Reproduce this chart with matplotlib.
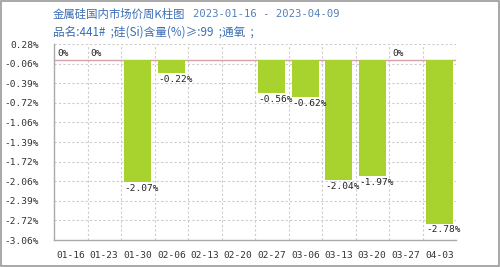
import numpy as np
import matplotlib
matplotlib.use("Agg")
import matplotlib.pyplot as plt
from matplotlib.patches import Rectangle

# data (None = no bar that week)
weeks = ["01-16", "01-23", "01-30", "02-06", "02-13", "02-20",
         "02-27", "03-06", "03-13", "03-20", "03-27", "04-03"]
changes = [0.0, 0.0, -2.07, -0.22, None, None,
           -0.56, -0.62, -2.04, -1.97, 0.0, -2.78]
ytick_labels = ["0.28%", "-0.06%", "-0.39%", "-0.72%", "-1.06%", "-1.39%",
                "-1.72%", "-2.06%", "-2.39%", "-2.72%", "-3.06%"]
y_top, y_bottom = 0.28, -3.06

title = "金属硅国内市场价周K柱图"
date_range = "2023-01-16 - 2023-04-09"
subtitle = "品名:441# ;硅(Si)含量(%)≥:99 ;通氧 ;"

cjk = ["Noto Sans CJK SC", "DejaVu Sans"]
mono = "DejaVu Sans Mono"
blue = "#3a6cb4"
bar_color = "#a8d22e"

fig = plt.figure(figsize=(5.0, 2.67), dpi=100)
ax = fig.add_axes([0.108, 0.101, 0.804, 0.734])

x = np.arange(len(weeks))
width = 0.8
for i, v in enumerate(changes):
    if v is None:
        continue
    left = x[i] - width / 2
    if v != 0:
        ax.bar(x[i], v, width=width, color=bar_color, zorder=3)
        ax.text(left, v - 0.03, "%.2f%%" % v, ha="left", va="top",
                fontsize=6.8, family=mono, color="#222222", zorder=4)
    else:
        ax.text(left, 0.04, "0%", ha="left", va="bottom",
                fontsize=6.8, family=mono, color="#222222", zorder=4)

ax.axhline(0, color="#d8a0a8", lw=1.0, zorder=2)

ax.set_xlim(-0.5, len(weeks) - 0.5)
ax.set_ylim(y_bottom, y_top)
ax.set_yticks(np.linspace(y_top, y_bottom, len(ytick_labels)))
ax.set_yticklabels(ytick_labels, family=mono, fontsize=6.8, color="#333333")
ax.set_xticks(x)
ax.set_xticklabels(weeks, family=mono, fontsize=6.8, color="#333333")
ax.tick_params(length=0, pad=8)
ax.tick_params(axis="y", pad=11)

# dashed grid on week boundaries and y ticks
for b in np.arange(-0.5, len(weeks), 1.0)[1:]:
    ax.axvline(b, color="#cccccc", lw=0.8, ls=(0, (2, 2)), zorder=1)
for t in np.linspace(y_top, y_bottom, len(ytick_labels))[:-1]:
    ax.axhline(t, color="#cccccc", lw=0.8, ls=(0, (2, 2)), zorder=1)

for s in ["top", "right"]:
    ax.spines[s].set_visible(False)
for s in ["left", "bottom"]:
    ax.spines[s].set_color("#aaaaaa")
    ax.spines[s].set_linewidth(1.0)

fig.text(0.106, 0.948, title, family=cjk, fontsize=8.2, color=blue, va="center")
fig.text(0.386, 0.948, date_range, family=mono, fontsize=7.6, color="#5580bb", va="center")
fig.text(0.106, 0.88, subtitle.replace(";", " ;"), family=cjk, fontsize=8.4,
         color=blue, va="center")

fig.patches.append(Rectangle((0.001, 0.002), 0.997, 0.995, transform=fig.transFigure,
                             fill=False, edgecolor="#999999", lw=1.2))

fig.savefig("out.png", dpi=100)
